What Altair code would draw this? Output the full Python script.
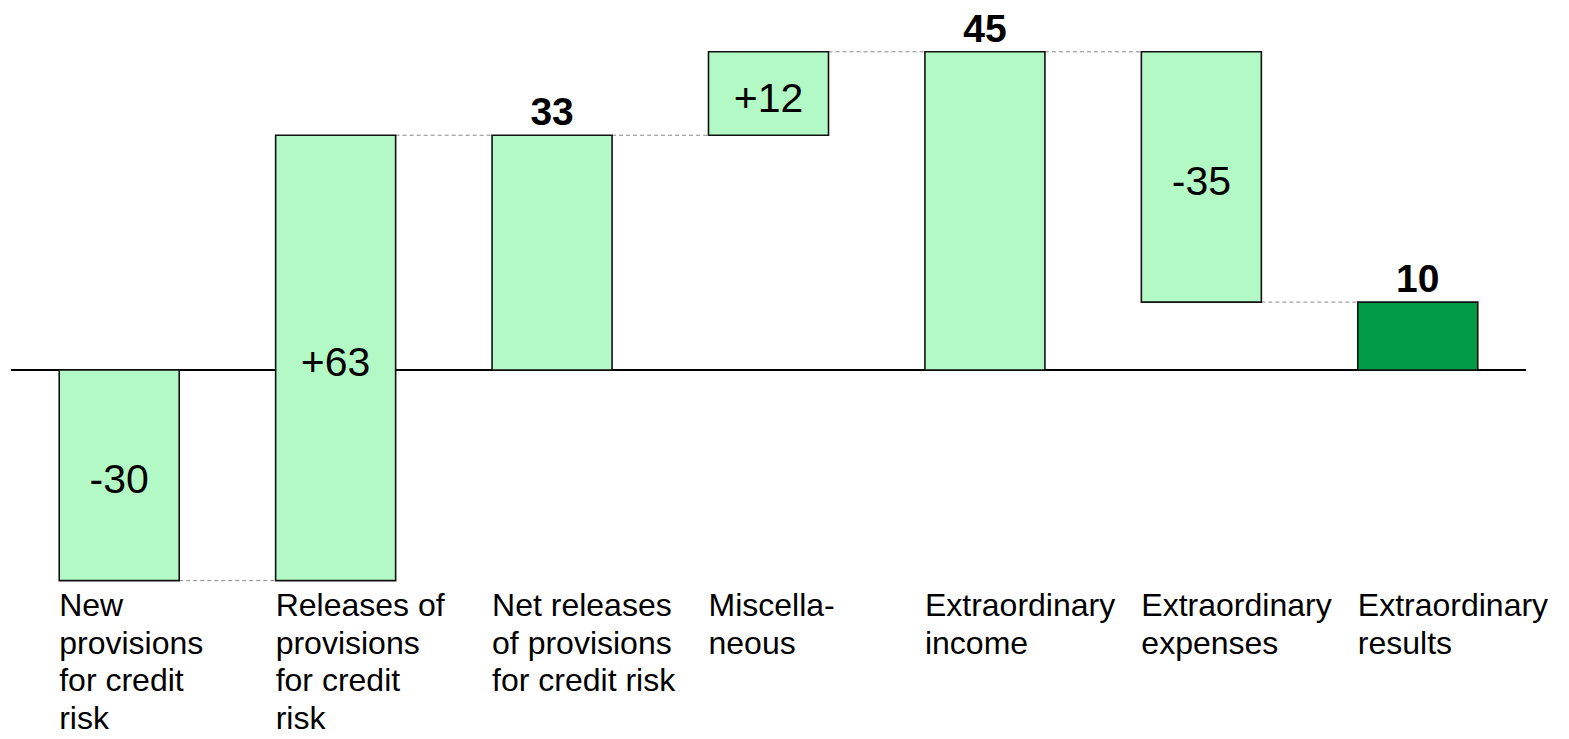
import altair as alt
import pandas as pd

categories = [
    "New\nprovisions\nfor credit\nrisk",
    "Releases of\nprovisions\nfor credit\nrisk",
    "Net releases\nof provisions\nfor credit risk",
    "Miscella-\nneous",
    "Extraordinary\nincome",
    "Extraordinary\nexpenses",
    "Extraordinary\nresults",
]
# values (labels show rounded figures)
values = [-29.8, 63.0, 33.2, 11.8, 45.0, -35.4, 9.6]
kinds = ["delta", "delta", "total", "delta", "total", "delta", "final"]
value_labels = ["-30", "+63", "33", "+12", "45", "-35", "10"]

rows = []
running = 0
for i, (c, v, k, lab) in enumerate(zip(categories, values, kinds, value_labels)):
    if k == "delta":
        start, end = running, running + v
        running = end
    else:
        start, end = 0, v
        running = v
    rows.append(dict(idx=i, cat=c, start=start, end=end, mid=(start + end) / 2,
                     kind=k, label=lab, nxt=i + 1, zero=0))
df = pd.DataFrame(rows)

FONT = "Liberation Sans"
xs = alt.Scale(domain=[-0.5, 6.5], nice=False, zero=False, padding=0)
ys = alt.Scale(domain=[-52.2, 52.33], nice=False, zero=False, padding=0)

base = alt.Chart(df)

zero = base.transform_filter("datum.idx == 0").mark_rule(color="black", strokeWidth=2).encode(
    y=alt.Y("zero:Q", scale=ys, axis=None)
)

connectors = base.transform_filter("datum.idx < 6").mark_rule(
    color="#8a8a8a", strokeWidth=1, strokeDash=[4, 3], xOffset=60, x2Offset=-60
).encode(
    x=alt.X("idx:Q", scale=xs, axis=None),
    x2="nxt:Q",
    y=alt.Y("end:Q", scale=ys, axis=None),
)

bars = base.mark_bar(size=120, stroke="#111111", strokeWidth=1.6).encode(
    x=alt.X("idx:Q", scale=xs, axis=None),
    y=alt.Y("start:Q", scale=ys, axis=None),
    y2="end:Q",
    fill=alt.Fill("kind:N", scale=alt.Scale(domain=["delta", "total", "final"],
                                            range=["#b3f9c5", "#b3f9c5", "#009c45"]), legend=None),
)

delta_text = base.transform_filter("datum.kind == 'delta'").mark_text(
    font=FONT, fontSize=41, baseline="middle", dy=6, color="black"
).encode(
    x=alt.X("idx:Q", scale=xs, axis=None),
    y=alt.Y("mid:Q", scale=ys, axis=None),
    text="label:N",
)

total_text = base.transform_filter("datum.kind != 'delta'").mark_text(
    font=FONT, fontSize=39, fontWeight="bold", baseline="alphabetic", dy=-10, color="black"
).encode(
    x=alt.X("idx:Q", scale=xs, axis=None),
    y=alt.Y("end:Q", scale=ys, axis=None),
    text="label:N",
)

cat_text = base.mark_text(
    font=FONT, fontSize=32, align="left", baseline="top", dx=-60, lineBreak="\n",
    lineHeight=37.5, color="black"
).encode(
    x=alt.X("idx:Q", scale=xs, axis=None),
    y=alt.value(591),
    text="cat:N",
)

chart = alt.layer(zero, connectors, bars, delta_text, total_text, cat_text).properties(
    width=1515, height=739,
    padding={"left": 11, "top": 0, "right": 43, "bottom": 0},
    autosize=alt.AutoSizeParams(type="none"),
    background="white",
).configure_view(stroke=None)

chart.save("out.html", embed_options={"renderer": "svg", "actions": False})
